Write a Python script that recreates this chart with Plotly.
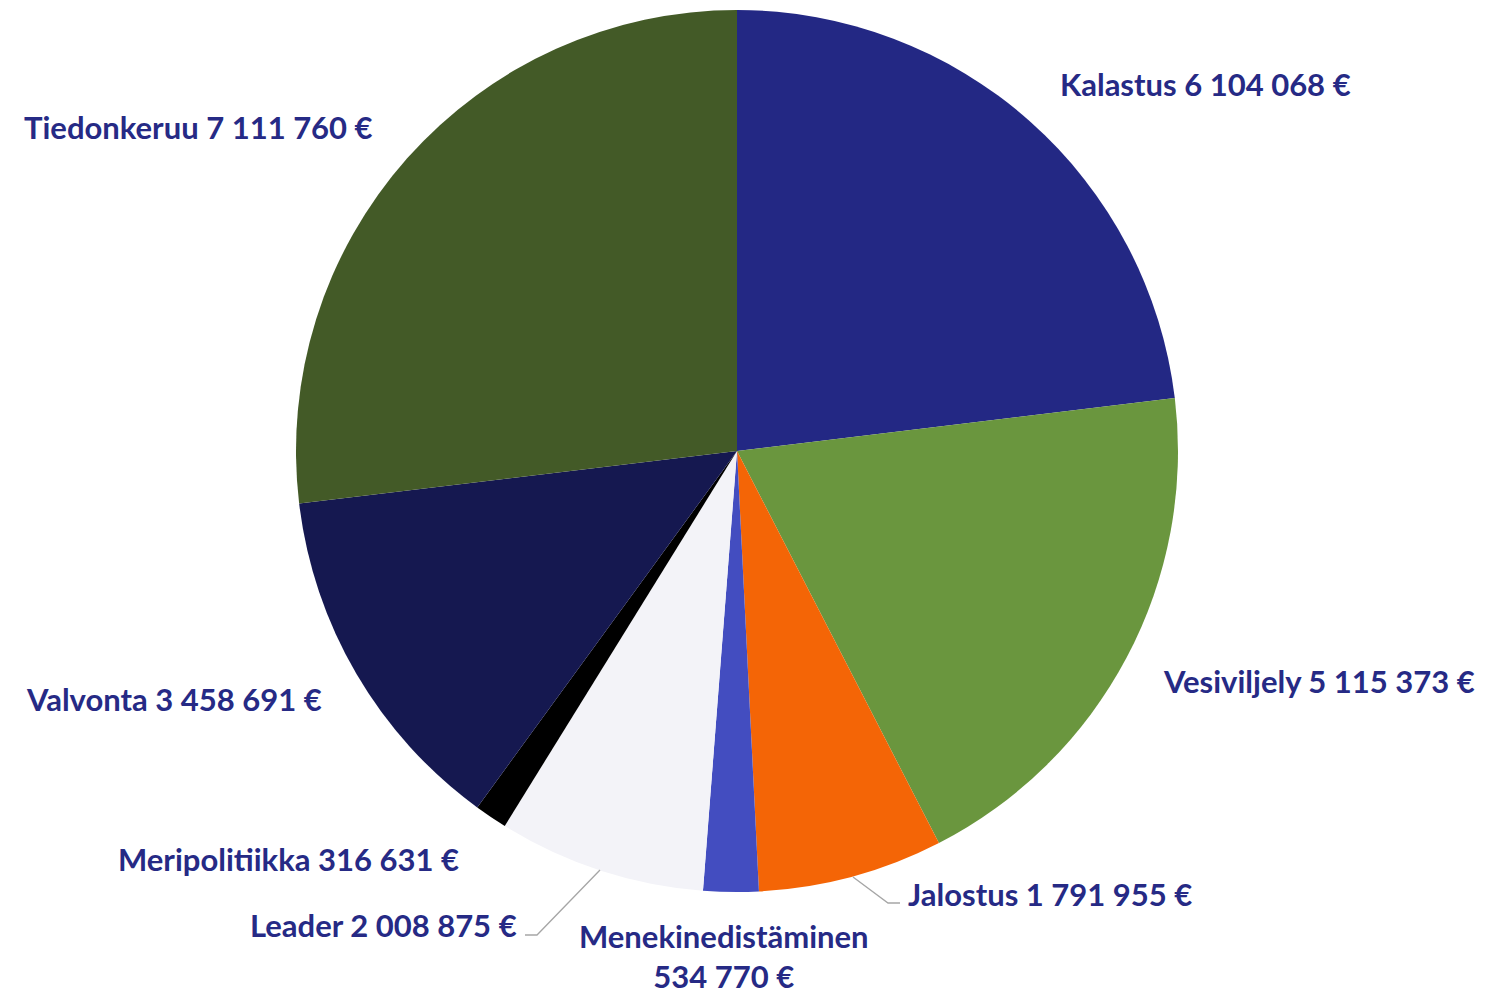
import plotly.graph_objects as go

W, H = 1491, 993
OFF = 8  # page body margin

categories = ["Kalastus", "Vesiviljely", "Jalostus", "Menekinedistäminen",
              "Leader", "Meripolitiikka", "Valvonta", "Tiedonkeruu"]
values = [6104068, 5115373, 1791955, 534770, 2008875, 316631, 3458691, 7111760]
colors = ["#232884", "#6A963E", "#F46506", "#434DC0",
          "#F3F3F8", "#000000", "#151850", "#435A27"]

# label text layout (pixel centres) for each category
label_pos = {
    "Kalastus": (1205, 84),
    "Vesiviljely": (1319, 681),
    "Jalostus": (1050, 894),
    "Menekinedistäminen": (724, 956),
    "Leader": (383, 925),
    "Meripolitiikka": (288, 859),
    "Valvonta": (174, 699),
    "Tiedonkeruu": (198, 127),
}

def fmt(v):
    return f"{v:,}".replace(",", " ") + " €"

def px(x, y):
    return (x - OFF) / W, 1 - (y - OFF) / H

cx, cy, r = 737, 451, 441
x0, y0 = px(cx - r, cy + r)
x1, y1 = px(cx + r, cy - r)
fig = go.Figure(go.Pie(
    labels=categories, values=values,
    marker=dict(colors=colors, line=dict(width=0)),
    sort=False, direction="clockwise", rotation=0,
    textinfo="none", hoverinfo="label+value",
    domain=dict(x=[x0, x1], y=[y0, y1]),
    showlegend=False,
))

annotations = []
for c, v in zip(categories, values):
    x, y = label_pos[c]
    if c == "Menekinedistäminen":
        text = f"<b>{c}</b><br><b>{fmt(v)}</b>"
    else:
        text = f"<b>{c} {fmt(v)}</b>"
    ax, ay = px(x, y)
    annotations.append(dict(x=ax, y=ay, xref="paper", yref="paper", text=text,
                            showarrow=False, xanchor="center", yanchor="middle",
                            font=dict(family="Lato", size=31, color="#262A85")))

shapes = []
def poly(points):
    path = "M " + " L ".join(f"{px(x, y)[0]},{px(x, y)[1]}" for x, y in points)
    return dict(type="path", xref="paper", yref="paper", path=path,
                line=dict(color="#A6A6A6", width=1.3))
shapes.append(poly([(600, 870), (537, 935), (525, 935)]))
shapes.append(poly([(853, 877), (888, 903), (900, 903)]))

fig.update_layout(width=W, height=H, margin=dict(l=0, r=0, t=0, b=0),
                  paper_bgcolor="white", plot_bgcolor="white",
                  annotations=annotations, shapes=shapes)
fig.write_html("out.html")
